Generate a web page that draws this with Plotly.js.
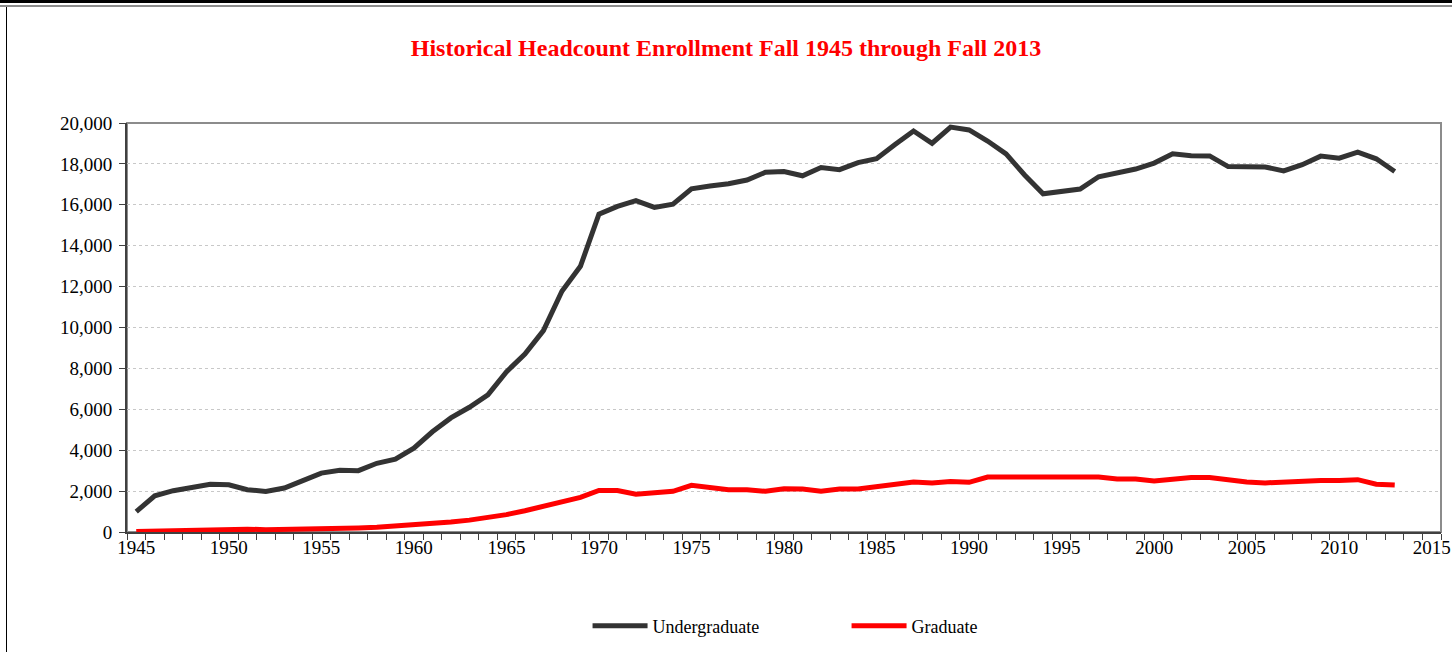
<!DOCTYPE html>
<html>
<head>
<meta charset="utf-8">
<script src="https://cdn.plot.ly/plotly-3.0.1.min.js"></script>
<style>
  html, body { margin: 0; padding: 0; background: #fff; }
  #wrap { position: relative; width: 1452px; height: 652px; overflow: hidden; }
  #chart { position: absolute; left: 0; top: 0; width: 1452px; height: 652px; }
  .deco { position: absolute; pointer-events: none; }
</style>
</head>
<body>
<div id="wrap">
  <div id="chart"></div>
  <div class="deco" style="left:0;top:0;width:1452px;height:3px;background:#000;"></div>
  <div class="deco" style="left:0;top:5px;width:1452px;height:2px;background:#8c8c8c;"></div>
  <div class="deco" style="left:6px;top:7px;width:1px;height:645px;background:#000;"></div>
</div>
<script>
const years = [];
for (let y = 1945; y <= 2013; y++) years.push(y);

const undergraduate = [
  1000, 1770, 2020, 2180, 2330, 2310, 2070, 1980, 2150, 2510,
  2880, 3020, 3000, 3360, 3560, 4100, 4900, 5580, 6100, 6710,
  7830, 8700, 9850, 11770, 12990, 15540, 15920, 16200, 15870, 16030,
  16780, 16920, 17030, 17210, 17590, 17630, 17420, 17820, 17720, 18060,
  18250, 18950, 19610, 19010, 19800, 19660, 19120, 18490, 17460, 16540,
  16660, 16770, 17370, 17540, 17750, 18040, 18490, 18400, 18390, 17870,
  17830, 17850, 17660, 17960, 18380, 18280, 18570, 18250, 17630
];

const graduate = [
  30, 50, 60, 80, 100, 140, 140, 110, 120, 150,
  180, 180, 200, 230, 280, 350, 420, 490, 580, 690,
  850, 1040, 1250, 1500, 1690, 2030, 2030, 1850, 1920, 1990,
  2280, 2180, 2070, 2070, 1990, 2110, 2100, 1990, 2100, 2100,
  2200, 2310, 2440, 2400, 2470, 2430, 2690, 2690, 2690, 2670,
  2640, 2650, 2690, 2590, 2590, 2490, 2590, 2670, 2670, 2560,
  2440, 2400, 2440, 2510, 2520, 2520, 2560, 2340, 2300
];

const xTickVals = [1945, 1950, 1955, 1960, 1965, 1970, 1975, 1980, 1985, 1990, 1995, 2000, 2005, 2010, 2015];
const seriesNames = ['Undergraduate', 'Graduate'];
const titleText = 'Historical Headcount Enrollment Fall 1945 through Fall 2013';

const serif = '"Liberation Serif", "Times New Roman", serif';

const traces = [
  {
    x: years, y: undergraduate, name: seriesNames[0], type: 'scatter', mode: 'lines',
    line: { color: '#333333', width: 5 }
  },
  {
    x: years, y: graduate, name: seriesNames[1], type: 'scatter', mode: 'lines',
    line: { color: '#ff0000', width: 5 }
  }
];

const layout = {
  width: 1452, height: 652,
  margin: { l: 127, r: 11, t: 123, b: 120, autoexpand: false },
  paper_bgcolor: '#ffffff', plot_bgcolor: '#ffffff',
  font: { family: serif, size: 19, color: '#000000' },
  title: {
    text: '<b>' + titleText + '</b>',
    font: { family: serif, size: 24, color: '#ff0000' },
    x: 0.5, xref: 'container', xanchor: 'center',
    y: 1 - 48 / 652, yref: 'container', yanchor: 'middle'
  },
  xaxis: {
    range: [1944.5, 2015.5],
    tickmode: 'array', tickvals: xTickVals,
    ticks: '', showgrid: false, zeroline: false,
    showline: true, linecolor: '#404040', linewidth: 2,
    ticklabelstandoff: -3,
    tickfont: { family: serif, size: 19, color: '#000' },
    minor: { ticks: 'outside', ticklen: 6, tickwidth: 1, tickcolor: '#404040', tick0: 1944.5, dtick: 1, showgrid: false }
  },
  yaxis: {
    range: [0, 20000], dtick: 2000, tickformat: ',d',
    ticks: 'outside', ticklen: 6, tickwidth: 1, tickcolor: '#404040',
    showline: true, linecolor: '#404040', linewidth: 2,
    showgrid: true, gridcolor: '#c8c8c8', gridwidth: 1, griddash: 'dot',
    zeroline: false,
    ticklabelstandoff: 3,
    tickfont: { family: serif, size: 19, color: '#000' }
  },
  shapes: [
    { type: 'rect', xref: 'paper', yref: 'paper', x0: 0, x1: 1, y0: 0, y1: 1,
      line: { color: '#8c8c8c', width: 2 }, layer: 'below' }
  ],
  showlegend: true,
  legend: {
    orientation: 'h', x: 0.3505, xanchor: 'left', y: -0.23, yanchor: 'middle',
    font: { family: serif, size: 18, color: '#000' },
    itemwidth: 55, entrywidth: 189, entrywidthmode: 'pixels',
    bgcolor: 'rgba(0,0,0,0)'
  }
};

Plotly.newPlot('chart', traces, layout, { displayModeBar: false, staticPlot: true });
</script>
</body>
</html>
